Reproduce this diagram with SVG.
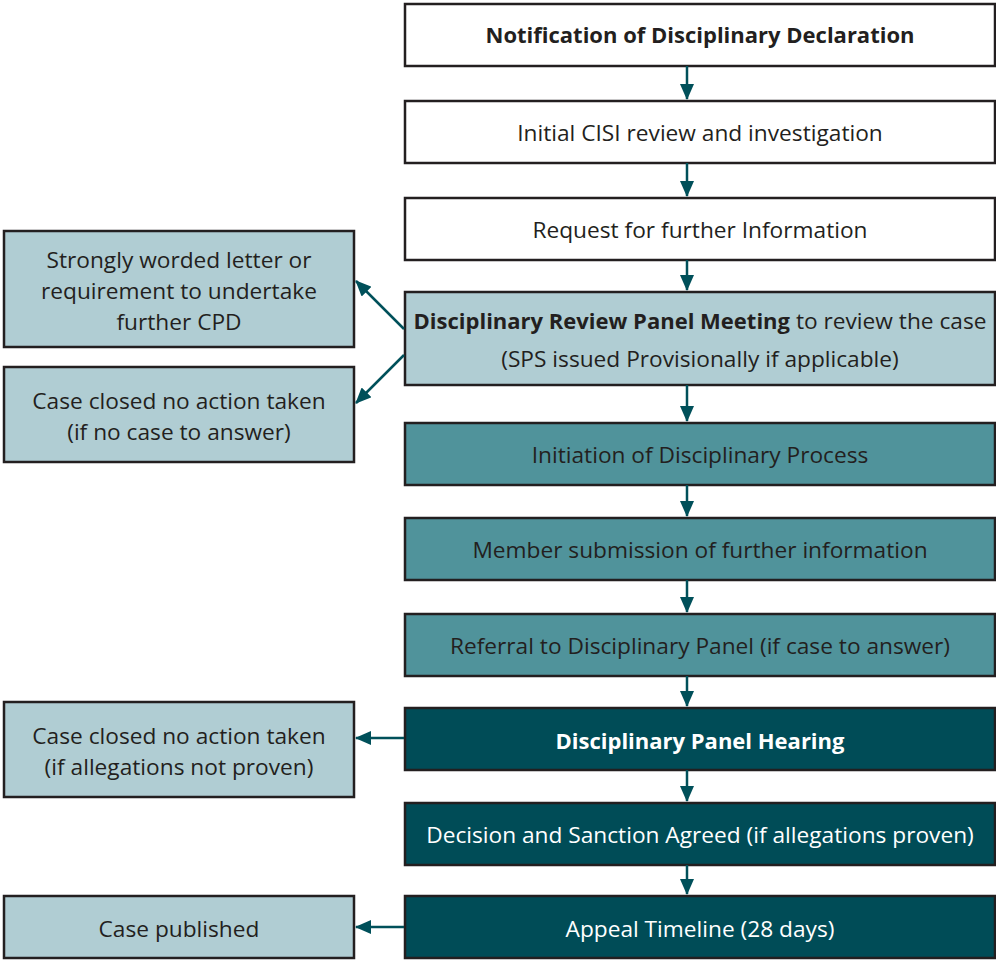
<svg xmlns="http://www.w3.org/2000/svg" width="996" height="961" viewBox="0 0 996 961">
<defs>
<style>
.b{stroke:#231f20;stroke-width:2.5}
.w{fill:#ffffff}.l{fill:#b0cdd3}.m{fill:#50939b}.d{fill:#004c57}
text{font-family:"Open Sans","Liberation Sans",sans-serif;font-size:22.7px;fill:#231f20;text-anchor:middle}
.bd{font-weight:bold;font-size:22px}
.wt{fill:#ffffff}
.c{stroke:#00505a;stroke-width:2.5;fill:none}
</style>
<marker id="ah2" markerWidth="16" markerHeight="14" refX="15" refY="7" orient="auto" markerUnits="userSpaceOnUse" viewBox="0 0 16 14">
<path d="M0,0 L16,7 L0,14 z" fill="#00505a"/>
</marker>
</defs>
<g id="n1"><rect class="b w" x="405" y="4" width="590" height="62"/><text x="700" y="43" class="bd">Notification of Disciplinary Declaration</text></g>
<g id="n2"><rect class="b w" x="405" y="101" width="590" height="62"/><text x="700" y="141">Initial CISI review and investigation</text></g>
<g id="n3"><rect class="b w" x="405" y="198" width="590" height="62"/><text x="700" y="238">Request for further Information</text></g>
<g id="n4"><rect class="b l" x="405" y="292" width="590" height="93"/><text x="700" y="329"><tspan class="bd">Disciplinary Review Panel Meeting</tspan> to review the case</text><text x="700" y="367">(SPS issued Provisionally if applicable)</text></g>
<g id="n5"><rect class="b m" x="405" y="423" width="590" height="62"/><text x="700" y="463">Initiation of Disciplinary Process</text></g>
<g id="n6"><rect class="b m" x="405" y="518" width="590" height="62"/><text x="700" y="558">Member submission of further information</text></g>
<g id="n7"><rect class="b m" x="405" y="614" width="590" height="62"/><text x="700" y="654">Referral to Disciplinary Panel (if case to answer)</text></g>
<g id="n8"><rect class="b d" x="405" y="708" width="590" height="62"/><text x="700" y="749" class="bd wt">Disciplinary Panel Hearing</text></g>
<g id="n9"><rect class="b d" x="405" y="803" width="590" height="62"/><text x="700" y="843" class="wt">Decision and Sanction Agreed (if allegations proven)</text></g>
<g id="n10"><rect class="b d" x="405" y="896" width="590" height="62"/><text x="700" y="937" class="wt">Appeal Timeline (28 days)</text></g>
<g id="l1"><rect class="b l" x="4" y="231" width="350" height="116"/><text x="179" y="268">Strongly worded letter or</text><text x="179" y="299">requirement to undertake</text><text x="179" y="330">further CPD</text></g>
<g id="l2"><rect class="b l" x="4" y="367" width="350" height="95"/><text x="179" y="409">Case closed no action taken</text><text x="179" y="440">(if no case to answer)</text></g>
<g id="l3"><rect class="b l" x="4" y="702" width="350" height="95"/><text x="179" y="744">Case closed no action taken</text><text x="179" y="775">(if allegations not proven)</text></g>
<g id="l4"><rect class="b l" x="4" y="896" width="350" height="62"/><text x="179" y="937">Case published</text></g>
<g id="connectors">
<line class="c" x1="687" y1="66" x2="687" y2="99" marker-end="url(#ah2)"/>
<line class="c" x1="687" y1="163" x2="687" y2="196" marker-end="url(#ah2)"/>
<line class="c" x1="687" y1="260" x2="687" y2="290" marker-end="url(#ah2)"/>
<line class="c" x1="687" y1="385" x2="687" y2="421" marker-end="url(#ah2)"/>
<line class="c" x1="687" y1="485" x2="687" y2="516" marker-end="url(#ah2)"/>
<line class="c" x1="687" y1="580" x2="687" y2="612" marker-end="url(#ah2)"/>
<line class="c" x1="687" y1="676" x2="687" y2="706" marker-end="url(#ah2)"/>
<line class="c" x1="687" y1="770" x2="687" y2="801" marker-end="url(#ah2)"/>
<line class="c" x1="687" y1="865" x2="687" y2="894" marker-end="url(#ah2)"/>
<line class="c" x1="404" y1="329" x2="356" y2="281" marker-end="url(#ah2)"/>
<line class="c" x1="404" y1="355" x2="356" y2="403" marker-end="url(#ah2)"/>
<line class="c" x1="404" y1="738" x2="356" y2="738" marker-end="url(#ah2)"/>
<line class="c" x1="404" y1="927" x2="356" y2="927" marker-end="url(#ah2)"/>
</g>
</svg>
